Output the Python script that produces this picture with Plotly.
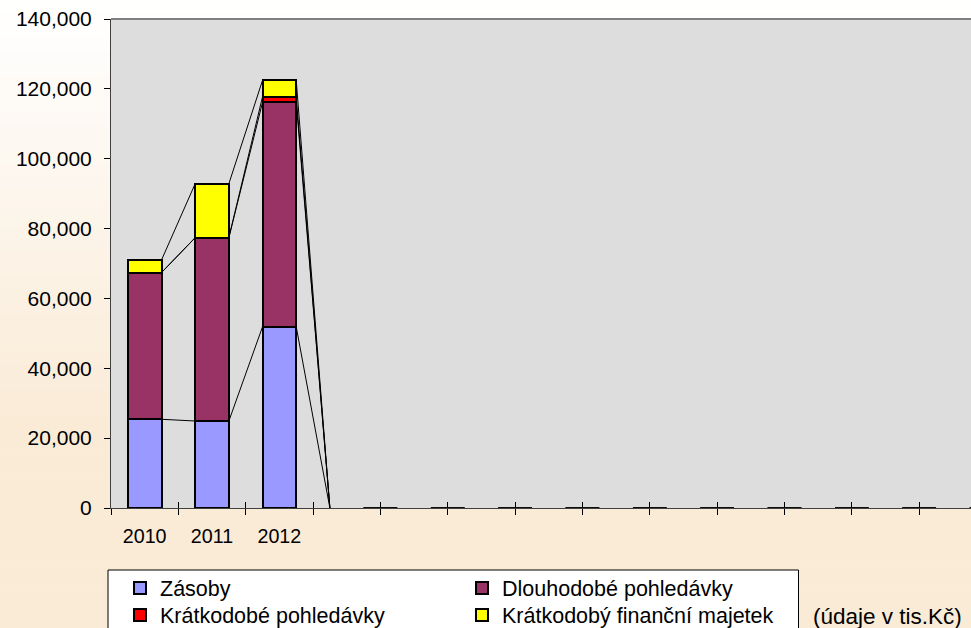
import plotly.graph_objects as go

# ---------------- data ----------------
categories = ["2010", "2011", "2012", "", "", "", "", "", "", "", "", "", "", ""]
zasoby = [25400, 24900, 51900, 0, 0, 0, 0, 0, 0, 0, 0, 0, 0, 0]
dlouhodobe_pohledavky = [42000, 52500, 64250, 0, 0, 0, 0, 0, 0, 0, 0, 0, 0, 0]
kratkodobe_pohledavky = [0, 0, 1600, 0, 0, 0, 0, 0, 0, 0, 0, 0, 0, 0]
kratkodoby_fin_majetek = [3600, 15450, 4700, 0, 0, 0, 0, 0, 0, 0, 0, 0, 0, 0]
series_names = ["Zásoby", "Dlouhodobé pohledávky", "Krátkodobé pohledávky",
                "Krátkodobý finanční majetek"]
y_ticks = [0, 20000, 40000, 60000, 80000, 100000, 120000, 140000]
unit_note = "(údaje v tis.Kč)"

# ---------------- styling ----------------
W, H = 971, 628
ML, MR, MT, MB = 111, 0, 19, 120
PW, PH = W - ML - MR, H - MT - MB
FONT = "Liberation Sans, Arial, sans-serif"
AXIS_C = "#404040"
colors = ["#9999FF", "#993366", "#FF0000", "#FFFF00"]
BAR_W = 0.5
X_MAX = -0.5 + PW / 67.35

series = [zasoby, dlouhodobe_pohledavky, kratkodobe_pohledavky, kratkodoby_fin_majetek]
xs = list(range(len(categories)))

def py(px):  # pixel y -> paper y
    return (H - MB - px) / PH

def pxx(px):  # pixel x -> paper x
    return (px - ML) / PW

# legend slots (container coords): two columns, two rows
legend_ids = ["legend", "legend2", "legend3", "legend4"]
legend_pos = [(120, 588), (462, 588), (120, 615), (462, 615)]

fig = go.Figure()
for name, vals, col, lid in zip(series_names, series, colors, legend_ids):
    fig.add_trace(go.Bar(
        x=xs, y=[v if v else None for v in vals], name=name, width=BAR_W,
        marker=dict(color=col, line=dict(color="black", width=2)),
        legend=lid,
    ))

# Excel-style series lines connecting the top of each segment
cum = [0] * len(categories)
lx, ly = [], []
for vals in series:
    cum = [c + v for c, v in zip(cum, vals)]
    for i in range(len(categories) - 1):
        lx += [xs[i] + BAR_W / 2, xs[i + 1] - BAR_W / 2, None]
        ly += [cum[i], cum[i + 1], None]
fig.add_trace(go.Scatter(x=lx, y=ly, mode="lines", xaxis="x2", yaxis="y",
                         line=dict(color="black", width=1), showlegend=False,
                         hoverinfo="skip"))

# background gradient (white top -> peach bottom)
shapes = []
peach = (250, 235, 215)
N = 50
for k in range(N):
    y0p = H * k / N
    y1p = H * (k + 1) / N
    t = min(1.0, ((y0p + y1p) / 2) / 420.0)
    c = tuple(round(255 * (1 - t) + p * t) for p in peach)
    shapes.append(dict(type="rect", xref="paper", yref="paper", layer="below",
                       x0=pxx(-2), x1=pxx(W + 2), y0=py(y1p + 0.5), y1=py(y0p),
                       fillcolor="rgb(%d,%d,%d)" % c, line=dict(width=0)))
# plot area
shapes.append(dict(type="rect", xref="paper", yref="paper", layer="below",
                   x0=0, x1=1.01, y0=0, y1=1, fillcolor="#DDDDDD", line=dict(width=0)))
# top border of plot area
shapes.append(dict(type="line", xref="paper", yref="paper", layer="above",
                   x0=0, x1=1.01, y0=1, y1=1, line=dict(color="#808080", width=2)))
# legend box
shapes.append(dict(type="rect", xref="paper", yref="paper", layer="below",
                   x0=pxx(108), x1=pxx(798.5), y0=py(650), y1=py(570),
                   fillcolor="white", line=dict(color="black", width=1)))

boundaries = [i - 0.5 for i in range(len(categories) + 1)]

legends = {}
for lid, (lxp, lyp) in zip(legend_ids, legend_pos):
    legends[lid] = dict(orientation="v", xref="container", yref="container",
                        x=lxp / W, y=1 - lyp / H, xanchor="left", yanchor="middle",
                        bgcolor="rgba(0,0,0,0)", borderwidth=0,
                        font=dict(family=FONT, size=21.5, color="black"))

fig.update_layout(
    width=W, height=H,
    margin=dict(l=ML, r=MR, t=MT, b=MB, pad=0, autoexpand=False),
    paper_bgcolor="white", plot_bgcolor="#DDDDDD",
    barmode="stack", bargap=0.5,
    font=dict(family=FONT, size=20, color="black"),
    shapes=shapes,
    showlegend=True,
    xaxis=dict(range=[-0.5, X_MAX], tickmode="array", tickvals=xs, ticktext=categories,
               ticks="", showgrid=False, zeroline=False, showline=True,
               linecolor=AXIS_C, linewidth=1, tickfont=dict(size=19.7),
               ticklabelstandoff=10, automargin=False,
               minor=dict(tickmode="array", tickvals=boundaries, ticks="outside",
                          ticklen=6, tickcolor="black", tickwidth=1, showgrid=False)),
    xaxis2=dict(range=[-0.5, X_MAX], overlaying="x", anchor="y", side="bottom",
                tickmode="array", tickvals=boundaries, ticks="inside", ticklen=6,
                tickcolor="black", showticklabels=False, showgrid=False,
                zeroline=False, showline=False, automargin=False),
    yaxis=dict(range=[0, 140000], tickmode="array", tickvals=y_ticks,
               tickformat=",", ticks="outside", ticklen=6, tickcolor="black",
               showgrid=False, zeroline=False, showline=True, linecolor=AXIS_C,
               linewidth=1, tickfont=dict(size=21), ticklabelstandoff=8,
               automargin=False),
    annotations=[dict(text=unit_note, xref="paper", yref="paper",
                      x=pxx(811), y=py(616), xanchor="left", yanchor="middle",
                      showarrow=False, font=dict(family=FONT, size=22.5, color="black"))],
    **legends,
)

fig.write_html(
    "out.html",
    config={"displayModeBar": False},
    post_script=("document.body.style.margin='0';document.body.style.padding='0';"
                 "document.documentElement.style.overflow='hidden';"
                 "document.body.style.overflow='hidden';"),
)
